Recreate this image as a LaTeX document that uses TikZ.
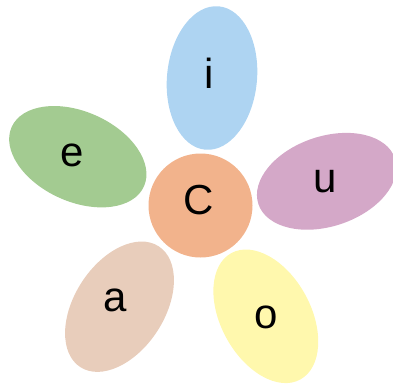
\documentclass[tikz,border=0pt]{standalone}
\usepackage{fontspec}
\setmainfont{Liberation Sans}
\usetikzlibrary{shapes.geometric}
\definecolor{cblue}{HTML}{AED4F2}
\definecolor{cgreen}{HTML}{A3CB91}
\definecolor{cpurple}{HTML}{D4A8C8}
\definecolor{cbeige}{HTML}{E8CDBB}
\definecolor{cyellow}{HTML}{FFF8AD}
\definecolor{corange}{HTML}{F2B38C}
\begin{document}
\begin{tikzpicture}[x=1pt,y=1pt,
  petal/.style={ellipse, draw=none, inner sep=0pt, outer sep=0pt, minimum width=144pt, minimum height=90pt},
  lbl/.style={inner sep=0pt, font=\fontsize{42}{46}\selectfont}]
\useasboundingbox (-200.5,-178.5) rectangle (192.5,205.5);
\node[petal, fill=cblue, rotate=84.6] (pi) at (11.5,127.5) {};
\node[petal, fill=cgreen, rotate=-24.2, minimum width=145pt] (pe) at (-122.7,48.8) {};
\node[petal, fill=cbeige, rotate=57] (pa) at (-81,-101.2) {};
\node[petal, fill=cyellow, rotate=-61.4] (po) at (65.3,-110.8) {};
\node[petal, fill=cpurple, rotate=18.5] (pu) at (126.2,24.2) {};
\node[circle, fill=corange, inner sep=0pt, minimum size=104pt] (pc) at (0,0) {};
\node[lbl] (ti) at (8.5,132) {i};
\node[lbl] (te) at (-128.5,50.5) {e};
\node[lbl] (tu) at (124.5,23.5) {u};
\node[lbl] (ta) at (-85.5,-94.5) {a};
\node[lbl] (to) at (66,-111.5) {o};
\node[lbl] (tc) at (-1.5,5.5) {C};
\end{tikzpicture}
\end{document}
